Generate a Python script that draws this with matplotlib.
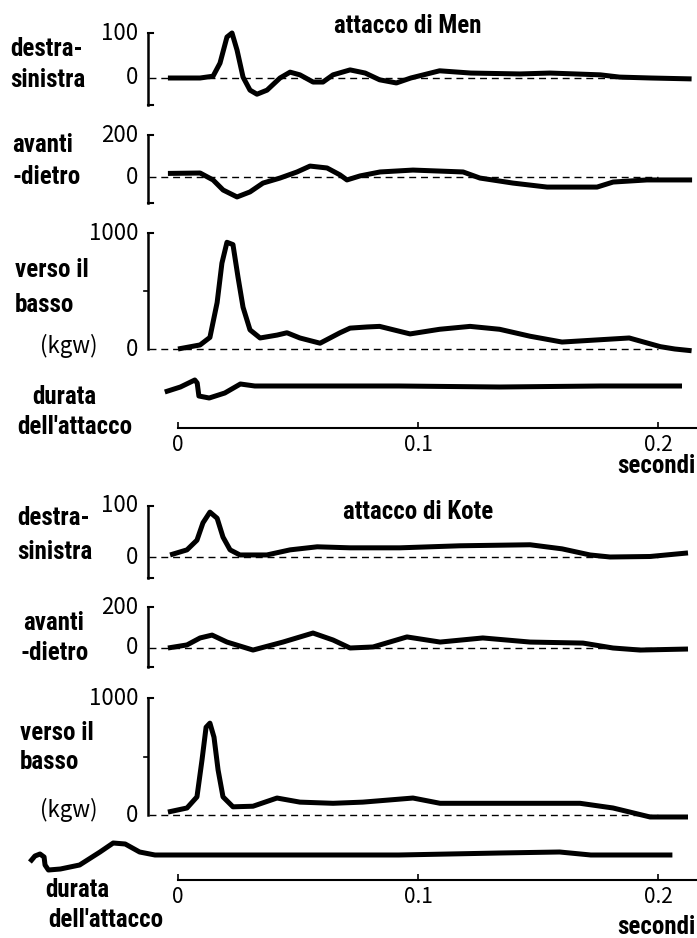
import matplotlib
matplotlib.use("Agg")
import matplotlib.pyplot as plt
from matplotlib import font_manager as fm

# tempi in ms, valori in kgw (durata: unita' arbitrarie)
men_ds_t = [-4.2, 9.2, 14.6, 17.5, 20.4, 22.5, 24.6, 27.1, 30, 32.9, 37.1, 42.5, 46.7, 50.8, 56.3, 60.4, 64.6,
            71.7, 78, 84, 91, 97, 109, 122, 142.5, 155, 176, 184, 197, 214]
men_ds_v = [0, 0, 4, 33, 91, 100, 62, 2, -27, -36, -27, 0, 13, 7, -9, -9, 7,
            18, 11, -4, -11, 0, 16, 11, 9, 11, 7, 2, 0, -2]

men_ad_t = [-4.2, 9.2, 14.6, 18.8, 24.6, 30, 35.4, 42.5, 49.6, 55, 62.1, 67.5, 70.4, 75.8, 84.2, 97.9,
            118.8, 125.8, 139.6, 153.8, 174.6, 181.3, 195.4, 214.2]
men_ad_v = [17, 19, -14, -62, -95, -71, -29, -5, 24, 52, 43, 10, -14, 5, 24, 33,
            24, -5, -29, -48, -48, -24, -14, -14]

men_vb_t = [0, 9.2, 13.3, 16.3, 18.3, 20.4, 22.9, 25, 27.1, 30, 34.2, 41.3, 45.4, 50.8, 59.2, 67.5, 71.7,
            78.8, 84, 96.7, 109, 121.7, 134, 146.7, 160, 176, 188, 201, 207, 214]
men_vb_v = [0, 35, 100, 400, 740, 920, 900, 620, 360, 165, 95, 120, 140, 95, 50, 140, 180,
            190, 195, 130, 170, 195, 170, 110, 60, 80, 95, 20, 0, -15]

men_du_t = [-5.5, 1, 7, 8, 8.7, 13, 19.5, 26, 32, 51, 92, 134, 176, 210]
men_du_v = [-5, 0, 7, 4, -9, -11, -6, 3, 1, 1, 1, 0, 1, 1]

kote_ds_t = [-3.3, 3.75, 7.9, 10.4, 13.3, 16.3, 18.75, 21.7, 25.8, 37, 46.7, 58, 71.7, 92.5, 117.5, 146.7,
             160, 171.7, 180, 196.7, 212.5]
kote_ds_v = [4, 14, 33, 67, 88, 76, 39, 14, 4, 4, 14, 20, 18, 18, 22, 24,
             16, 4, 0, 1, 8]

kote_ad_t = [-4.2, 3.75, 9.2, 14.2, 20.4, 31.25, 43.75, 56.25, 64.6, 71.7, 81.25, 95.4, 109.2, 127, 146.7,
             168.75, 181.25, 192.5, 212.5]
kote_ad_v = [0, 15, 49, 63, 29, -10, 29, 73, 39, 0, 5, 54, 29, 49, 29,
             24, 0, -10, -5]

kote_vb_t = [-4.2, 3.75, 7.9, 10, 11.7, 13.3, 15, 16.7, 18.75, 22.9, 31.25, 41.25, 50.8, 64.6, 77, 97.9,
             109.2, 167.5, 181.25, 196.7, 212.5]
kote_vb_v = [25, 60, 155, 470, 750, 785, 665, 385, 155, 70, 75, 145, 110, 100, 110, 145,
             100, 100, 60, -17, -17]

kote_du_t = [-61.7, -59.6, -57.5, -55.8, -55.4, -54, -49, -41, -32.5, -27, -22, -16, -9.6, 9, 92, 134, 159, 172, 206]
kote_du_v = [-7, -1, 1, -2, -10, -15, -14, -10, 3, 12, 11, 3, 0, 0, 0, 2, 3, 0, 0]

time_ticks = [0, 100, 200]
time_labels = ["0", "0.1", "0.2"]

W, H = 697, 938
X0, PX_MS = 178, 2.4
XL = ((20 - X0) / PX_MS, (W - X0) / PX_MS)
YAX = (148 - X0) / PX_MS


def label_font():
    names = {f.name for f in fm.fontManager.ttflist}
    for n in ["Liberation Sans Narrow", "Roboto Condensed", "Open Sans Condensed", "Noto Sans Condensed"]:
        if n in names:
            return dict(family=[n, "DejaVu Sans"])
    for n in ["Noto Sans", "Open Sans", "DejaVu Sans", "Roboto"]:
        if any(f.name == n and "condensed" in str(f.stretch) for f in fm.fontManager.ttflist):
            return dict(family=[n, "DejaVu Sans"], fontstretch="condensed")
    return dict(family=["DejaVu Sans"])


LAB = dict(label_font(), fontweight="bold", fontsize=18)
NUM = dict(family=["Noto Sans CJK JP", "DejaVu Sans"], fontsize=16)

fig = plt.figure(figsize=(W / 100, H / 100), dpi=100)


def ftext(x, y, s, **kw):
    fig.text(x / W, 1 - y / H, s, **kw)


def panel(top, bottom, zero, ppu):
    ax = fig.add_axes([20 / W, 1 - bottom / H, (W - 20) / W, (bottom - top) / H])
    ax.set_xlim(*XL)
    ax.set_ylim((zero - bottom) / ppu, (zero - top) / ppu)
    ax.axis("off")
    return ax


def curve(ax, t, v, dashed=True):
    if dashed:
        ax.plot([-12, 200], [0, 0], color="k", lw=1.0, ls=(0, (5, 3.5)), clip_on=False)
    ax.plot(t, v, color="k", lw=3.6, solid_joinstyle="round", solid_capstyle="butt", clip_on=False)


def y_axis(ax, lo, hi, ticks, labels, mid=None):
    ax.plot([YAX, YAX], [lo, hi], color="k", lw=1.8, clip_on=False)
    hook = 2.0
    ax.plot([YAX, YAX + hook], [hi, hi], color="k", lw=1.5, clip_on=False)
    if lo < 0:
        ax.plot([YAX, YAX + hook], [lo, lo], color="k", lw=1.5, clip_on=False)
    if mid is not None:
        ax.plot([YAX - 1.5, YAX], [mid, mid], color="k", lw=1.2, clip_on=False)
    for t, lab in zip(ticks, labels):
        ax.text(YAX - 4.0, t, lab, ha="right", va="center", **NUM)


def time_axis(y):
    ax = fig.add_axes([20 / W, 1 - y / H, (W - 20) / W, 0.001])
    ax.set_xlim(*XL)
    for s in ["top", "left", "right"]:
        ax.spines[s].set_visible(False)
    ax.spines["bottom"].set_bounds(0, XL[1])
    ax.spines["bottom"].set_linewidth(1.5)
    ax.set_yticks([])
    ax.set_xticks(time_ticks, time_labels)
    ax.tick_params(axis="x", direction="in", length=4, width=1.2, pad=4)
    for lab in ax.get_xticklabels():
        lab.set_fontfamily(NUM["family"])
        lab.set_fontsize(15)
    return ax


# --- attacco di Men ---
a1 = panel(25, 110, 78, 0.45)
curve(a1, men_ds_t, men_ds_v)
y_axis(a1, -60, 100, [100, 0], ["100", "0"])

a2 = panel(125, 210, 177, 0.21)
curve(a2, men_ad_t, men_ad_v)
y_axis(a2, -125, 200, [200, 0], ["200", "0"])

a3 = panel(225, 360, 349, 0.116)
curve(a3, men_vb_t, men_vb_v)
y_axis(a3, 0, 1000, [1000, 0], ["1000", "0"], mid=500)

a4 = panel(365, 410, 387, 1.0)
curve(a4, men_du_t, men_du_v, dashed=False)
time_axis(428)

ftext(408, 26, "attacco di Men", ha="center", va="center", **LAB)
ftext(10, 49, "destra-", va="center", **LAB)
ftext(10, 80, "sinistra", va="center", **LAB)
ftext(12, 145, "avanti", va="center", **LAB)
ftext(12, 177, "-dietro", va="center", **LAB)
ftext(15, 270, "verso il", va="center", **LAB)
ftext(15, 305, "basso", va="center", **LAB)
ftext(40, 346, "(kgw)", va="center", **NUM)
ftext(32, 397, "durata", va="center", **LAB)
ftext(17, 427, "dell'attacco", va="center", **LAB)
ftext(696, 466, "secondi", ha="right", va="center", **LAB)

# --- attacco di Kote ---
b1 = panel(500, 585, 557, 0.51)
curve(b1, kote_ds_t, kote_ds_v)
y_axis(b1, -42, 100, [100, 0], ["100", "0"])

b2 = panel(600, 675, 648, 0.205)
curve(b2, kote_ad_t, kote_ad_v)
y_axis(b2, -92, 200, [200, 0], ["200", "0"])

b3 = panel(690, 825, 815, 0.117)
curve(b3, kote_vb_t, kote_vb_v)
y_axis(b3, 0, 1000, [1000, 0], ["1000", "0"], mid=500)

b4 = panel(830, 878, 855, 1.0)
curve(b4, kote_du_t, kote_du_v, dashed=False)
time_axis(880)

ftext(418, 512, "attacco di Kote", ha="center", va="center", **LAB)
ftext(17, 518, "destra-", va="center", **LAB)
ftext(17, 552, "sinistra", va="center", **LAB)
ftext(23, 623, "avanti", va="center", **LAB)
ftext(20, 653, "-dietro", va="center", **LAB)
ftext(20, 733, "verso il", va="center", **LAB)
ftext(20, 762, "basso", va="center", **LAB)
ftext(40, 810, "(kgw)", va="center", **NUM)
ftext(45, 890, "durata", va="center", **LAB)
ftext(48, 920, "dell'attacco", va="center", **LAB)
ftext(696, 927, "secondi", ha="right", va="center", **LAB)

fig.savefig("out.png", dpi=100)
